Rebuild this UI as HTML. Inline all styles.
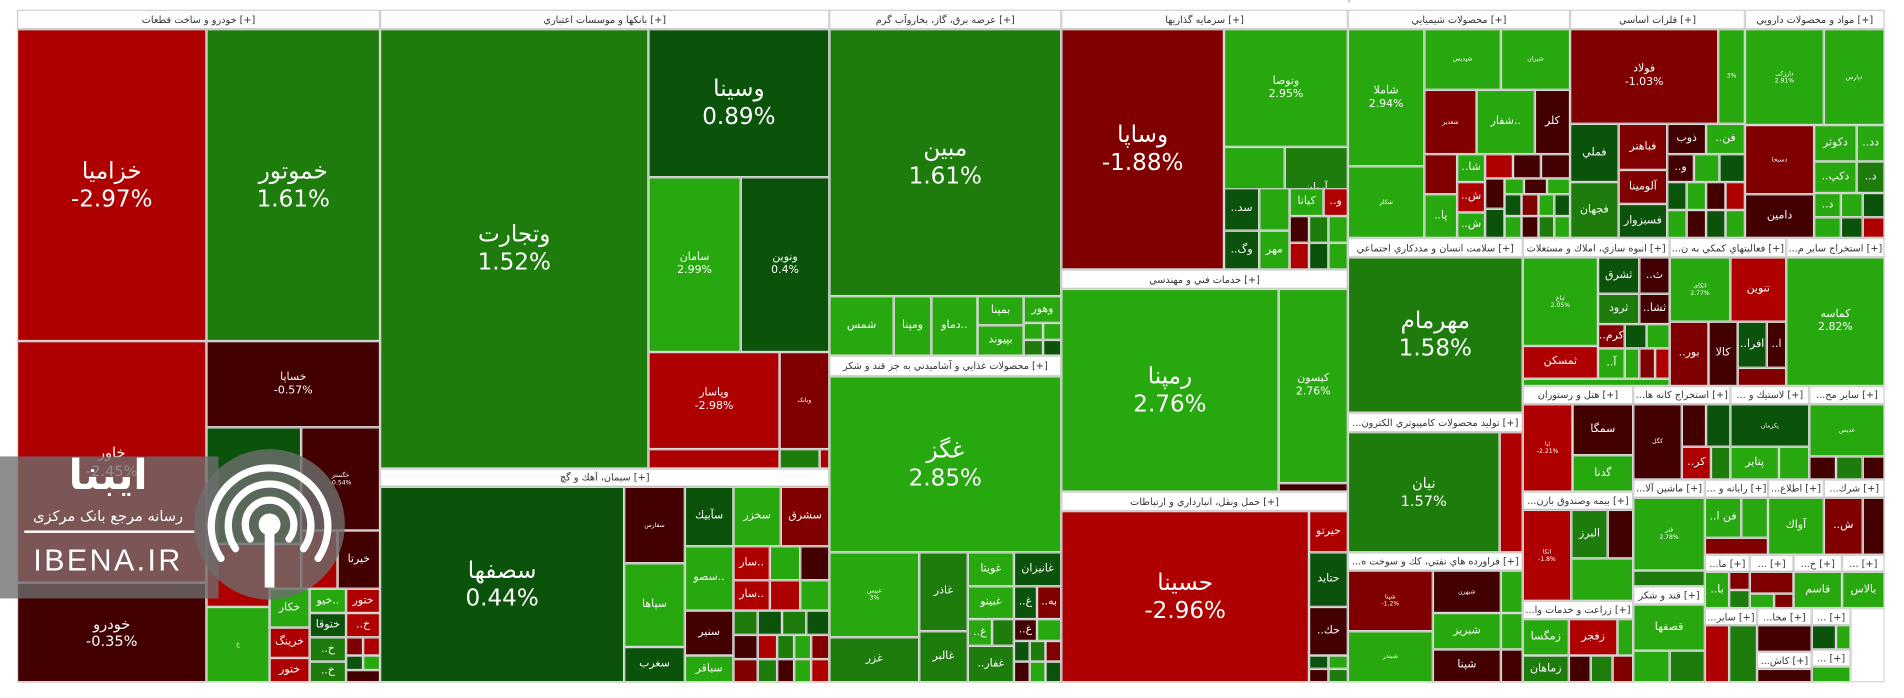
<!DOCTYPE html>
<html><head><meta charset="utf-8"><style>
body{margin:0;background:#fff;width:1904px;height:698px;overflow:hidden}
#w{position:absolute;left:0;top:0;width:1568px;height:575px;transform:scale(1.21429,1.2139);transform-origin:0 0;font-family:"DejaVu Sans","Liberation Sans",sans-serif}
.c{position:absolute;box-sizing:border-box;border:1px solid #d8d8d8;display:flex;align-items:center;justify-content:center;text-align:center;color:#fff;font-size:9px;line-height:1.2;overflow:hidden}
.h{position:absolute;box-sizing:border-box;border:1px solid #d0d0d0;background:#fff;color:#333;font-size:8px;display:flex;align-items:center;justify-content:center;white-space:nowrap;overflow:hidden}
.g1{background:#27a80e}.g2{background:#1d7c0b}.g3{background:#0b520a}
.r1{background:#ae0000}.r2{background:#800000}.r3{background:#420000}
.b{font-size:19px}.m{font-size:12px}.s{font-size:5px}
</style></head><body><div id="w">
<div style="position:absolute;left:14px;top:8px;width:1538px;height:554px;border:1px solid #ccc;box-sizing:border-box"></div>
<!-- خودرو -->
<div class="h" style="left:14px;top:8px;width:299px;height:16px">خودرو و ساخت قطعات [+]</div>
<div class="c r1 b" style="left:14px;top:24px;width:156px;height:257px">خزامیا<br>-2.97%</div>
<div class="c g2 b" style="left:170px;top:24px;width:143px;height:257px">خموتور<br>1.61%</div>
<div class="c r1 m" style="left:14px;top:281px;width:156px;height:199px">خاور<br>-2.45%</div>
<div class="c r3 m" style="left:14px;top:480px;width:156px;height:82px">خودرو<br>-0.35%</div>
<div class="c r3" style="left:170px;top:281px;width:143px;height:71px">خساپا<br>-0.57%</div>
<div class="c g3 s" style="left:170px;top:352px;width:78px;height:96px"></div>
<div class="c r3 s" style="left:248px;top:352px;width:65px;height:85px">خگستر<br>-0.54%</div>
<div class="c r1" style="left:170px;top:448px;width:52px;height:52px"></div>
<div class="c r3" style="left:278px;top:437px;width:35px;height:48px">خیرتا</div>
<div class="c r1" style="left:248px;top:437px;width:30px;height:48px"></div>
<div class="c r1" style="left:222px;top:448px;width:26px;height:37px"></div>
<div class="c g1 s" style="left:170px;top:500px;width:52px;height:62px">خ</div>
<div class="c g1" style="left:222px;top:485px;width:33px;height:32px">خکار</div>
<div class="c r1" style="left:222px;top:517px;width:33px;height:25px">خرینگ</div>
<div class="c r1" style="left:222px;top:542px;width:33px;height:20px">ختور</div>
<div class="c g1" style="left:255px;top:485px;width:30px;height:20px">خیو..</div>
<div class="c g3" style="left:255px;top:505px;width:30px;height:20px">ختوقا</div>
<div class="c g2" style="left:255px;top:525px;width:30px;height:20px">..خ</div>
<div class="c g2" style="left:255px;top:545px;width:30px;height:17px">..خ</div>
<div class="c r1" style="left:285px;top:485px;width:28px;height:20px">ختور</div>
<div class="c r1" style="left:285px;top:505px;width:28px;height:20px">..خ</div>
<div class="c r2" style="left:285px;top:525px;width:14px;height:15px"></div>
<div class="c r1" style="left:299px;top:525px;width:14px;height:15px"></div>
<div class="c g3" style="left:285px;top:540px;width:14px;height:12px"></div>
<div class="c g1" style="left:299px;top:540px;width:14px;height:12px"></div>
<div class="c r3" style="left:285px;top:552px;width:28px;height:10px"></div>
<!-- بانکها -->
<div class="h" style="left:313px;top:8px;width:370px;height:16px">بانکها و موسسات اعتباري [+]</div>
<div class="c g2 b" style="left:313px;top:24px;width:221px;height:362px">وتجارت<br>1.52%</div>
<div class="c g3 b" style="left:534px;top:24px;width:149px;height:122px">وسينا<br>0.89%</div>
<div class="c g1" style="left:534px;top:146px;width:76px;height:144px">سامان<br>2.99%</div>
<div class="c g3" style="left:610px;top:146px;width:73px;height:144px">ونوين<br>0.4%</div>
<div class="c r1" style="left:534px;top:290px;width:108px;height:80px">وپاسار<br>-2.98%</div>
<div class="c r2 s" style="left:642px;top:290px;width:41px;height:80px">وبانک</div>
<div class="c r1" style="left:534px;top:370px;width:108px;height:16px"></div>
<div class="c g2" style="left:642px;top:370px;width:33px;height:16px"></div>
<div class="c r1" style="left:675px;top:370px;width:8px;height:16px"></div>
<!-- سیمان -->
<div class="h" style="left:313px;top:386px;width:370px;height:15px">سيمان، آهك و گچ [+]</div>
<div class="c g3 b" style="left:313px;top:401px;width:201px;height:161px">سصفها<br>0.44%</div>
<div class="c r3 s" style="left:514px;top:401px;width:50px;height:63px">سفارس</div>
<div class="c g1" style="left:514px;top:464px;width:50px;height:69px">سپاها</div>
<div class="c g3" style="left:514px;top:533px;width:50px;height:29px">سغرب</div>
<div class="c g3" style="left:564px;top:401px;width:40px;height:49px">سآبيك</div>
<div class="c g1" style="left:564px;top:450px;width:40px;height:53px">سصو..</div>
<div class="c r3" style="left:564px;top:503px;width:40px;height:37px">سنير</div>
<div class="c g1" style="left:564px;top:540px;width:40px;height:22px">سباقر</div>
<div class="c g1" style="left:604px;top:401px;width:39px;height:49px">سخزر</div>
<div class="c r2" style="left:643px;top:401px;width:40px;height:49px">سشرق</div>
<div class="c r1" style="left:604px;top:450px;width:30px;height:28px">سار..</div>
<div class="c g1" style="left:634px;top:450px;width:25px;height:28px"></div>
<div class="c r3" style="left:659px;top:450px;width:24px;height:28px"></div>
<div class="c r1" style="left:604px;top:478px;width:30px;height:25px">سار..</div>
<div class="c r1" style="left:634px;top:478px;width:25px;height:25px"></div>
<div class="c g1" style="left:659px;top:478px;width:24px;height:25px"></div>
<div class="c g2" style="left:604px;top:503px;width:20px;height:20px"></div>
<div class="c g3" style="left:624px;top:503px;width:20px;height:20px"></div>
<div class="c g2" style="left:644px;top:503px;width:20px;height:20px"></div>
<div class="c g3" style="left:664px;top:503px;width:19px;height:20px"></div>
<div class="c r3" style="left:604px;top:523px;width:20px;height:20px"></div>
<div class="c r1" style="left:624px;top:523px;width:16px;height:20px"></div>
<div class="c g2" style="left:640px;top:523px;width:14px;height:20px"></div>
<div class="c g1" style="left:654px;top:523px;width:14px;height:20px"></div>
<div class="c r2" style="left:668px;top:523px;width:15px;height:20px"></div>
<div class="c r2" style="left:604px;top:543px;width:20px;height:19px"></div>
<div class="c g2" style="left:624px;top:543px;width:16px;height:19px"></div>
<div class="c r3" style="left:640px;top:543px;width:14px;height:19px"></div>
<div class="c g1" style="left:654px;top:543px;width:14px;height:19px"></div>
<div class="c r1" style="left:668px;top:543px;width:15px;height:19px"></div>
<!-- برق -->
<div class="h" style="left:683px;top:8px;width:191px;height:16px">عرضه برق، گاز، بخاروآب گرم [+]</div>
<div class="c g2 b" style="left:683px;top:24px;width:191px;height:220px">مبين<br>1.61%</div>
<div class="c g1" style="left:683px;top:244px;width:53px;height:49px">شمس</div>
<div class="c g1" style="left:736px;top:244px;width:31px;height:49px">ومپنا</div>
<div class="c g1" style="left:767px;top:244px;width:38px;height:49px">دماو..</div>
<div class="c g1" style="left:805px;top:244px;width:38px;height:24px">بمپنا</div>
<div class="c g1" style="left:805px;top:268px;width:38px;height:25px">بپيوند</div>
<div class="c g1" style="left:843px;top:244px;width:31px;height:22px">وهور</div>
<div class="c g1" style="left:843px;top:266px;width:16px;height:14px"></div>
<div class="c g1" style="left:859px;top:266px;width:15px;height:14px"></div>
<div class="c g2" style="left:843px;top:280px;width:16px;height:13px"></div>
<div class="c g3" style="left:859px;top:280px;width:15px;height:13px"></div>
<!-- غذایی -->
<div class="h" style="left:683px;top:293px;width:191px;height:17px">محصولات غذايي و آشاميدني به جز قند و شكر [+]</div>
<div class="c g1 b" style="left:683px;top:310px;width:191px;height:145px">غگز<br>2.85%</div>
<div class="c g1 s" style="left:683px;top:455px;width:74px;height:70px">غبيس<br>3%</div>
<div class="c g2" style="left:683px;top:525px;width:74px;height:37px">غزر</div>
<div class="c g2" style="left:757px;top:455px;width:40px;height:65px">غاذر</div>
<div class="c g2" style="left:757px;top:520px;width:40px;height:42px">غالبر</div>
<div class="c g1" style="left:797px;top:455px;width:38px;height:28px">غويتا</div>
<div class="c g1" style="left:797px;top:483px;width:38px;height:27px">غبينو</div>
<div class="c g1" style="left:797px;top:510px;width:20px;height:22px">..غ</div>
<div class="c g2" style="left:817px;top:510px;width:18px;height:22px"></div>
<div class="c g2" style="left:797px;top:532px;width:38px;height:30px">..غفار</div>
<div class="c g3" style="left:835px;top:455px;width:39px;height:28px">غانيزان</div>
<div class="c g3" style="left:835px;top:483px;width:19px;height:27px">..غ</div>
<div class="c r2" style="left:854px;top:483px;width:20px;height:27px">..به</div>
<div class="c r3" style="left:835px;top:510px;width:19px;height:18px">..غ</div>
<div class="c g1" style="left:854px;top:510px;width:20px;height:18px"></div>
<div class="c g3" style="left:835px;top:528px;width:13px;height:17px"></div>
<div class="c g2" style="left:848px;top:528px;width:13px;height:17px"></div>
<div class="c r2" style="left:861px;top:528px;width:13px;height:17px"></div>
<div class="c r3" style="left:835px;top:545px;width:13px;height:17px"></div>
<div class="c g1" style="left:848px;top:545px;width:13px;height:17px"></div>
<div class="c g3" style="left:861px;top:545px;width:13px;height:17px"></div>
<!-- سرمایه گذاری -->
<div class="h" style="left:874px;top:8px;width:236px;height:16px">سرمايه گذاريها [+]</div>
<div class="c r2 b" style="left:874px;top:24px;width:134px;height:198px">وساپا<br>-1.88%</div>
<div class="c g1" style="left:1008px;top:24px;width:102px;height:97px">وتوصا<br>2.95%</div>
<div class="c g1 s" style="left:1008px;top:121px;width:50px;height:69px">وبهمن</div>
<div class="c g2" style="left:1058px;top:121px;width:52px;height:69px">آريان</div>
<div class="c g3" style="left:1008px;top:190px;width:29px;height:1px"></div>
<div class="c g3" style="left:1008px;top:190px;width:0;height:0"></div>
<!-- سرمایه (reconstructed lower part) -->
<div class="c g3" style="left:1008px;top:190px;width:29px;height:0"></div>
<div class="c g1" style="left:1110px;top:0;width:0;height:0"></div>
<!-- شیمیایی -->
<div class="h" style="left:1110px;top:8px;width:183px;height:16px">محصولات شيميايي [+]</div>
<div class="c g1" style="left:1110px;top:24px;width:63px;height:113px">شاملا<br>2.94%</div>
<div class="c g1 s" style="left:1110px;top:137px;width:63px;height:59px">شکلر</div>
<div class="c g1 s" style="left:1173px;top:24px;width:63px;height:50px">شپدیس</div>
<div class="c g1 s" style="left:1236px;top:24px;width:57px;height:50px">شیران</div>
<div class="c r2 s" style="left:1173px;top:74px;width:43px;height:53px">شغدیر</div>
<div class="c g1" style="left:1216px;top:74px;width:48px;height:53px">شفار..</div>
<div class="c r3" style="left:1264px;top:74px;width:29px;height:53px">كلر</div>
<div class="c r2" style="left:1173px;top:127px;width:27px;height:33px"></div>
<div class="c g1" style="left:1173px;top:160px;width:27px;height:36px">..پا</div>
<div class="c g1" style="left:1200px;top:127px;width:23px;height:23px">..شا</div>
<div class="c r1" style="left:1200px;top:150px;width:23px;height:25px">..ش</div>
<div class="c g1" style="left:1200px;top:175px;width:23px;height:21px">..ش</div>
<div class="c r1" style="left:1223px;top:127px;width:23px;height:20px"></div>
<div class="c r3" style="left:1246px;top:127px;width:23px;height:20px"></div>
<div class="c r3" style="left:1269px;top:127px;width:24px;height:20px"></div>
<div class="c r3" style="left:1223px;top:147px;width:16px;height:25px"></div>
<div class="c g1" style="left:1239px;top:147px;width:16px;height:13px"></div>
<div class="c r3" style="left:1255px;top:147px;width:19px;height:13px"></div>
<div class="c g1" style="left:1274px;top:147px;width:19px;height:13px"></div>
<div class="c g3" style="left:1239px;top:160px;width:14px;height:18px"></div>
<div class="c r2" style="left:1253px;top:160px;width:14px;height:18px"></div>
<div class="c g1" style="left:1267px;top:160px;width:13px;height:18px"></div>
<div class="c g3" style="left:1280px;top:160px;width:13px;height:18px"></div>
<div class="c g3" style="left:1223px;top:172px;width:16px;height:24px"></div>
<div class="c g1" style="left:1239px;top:178px;width:14px;height:18px"></div>
<div class="c r3" style="left:1253px;top:178px;width:14px;height:18px"></div>
<div class="c g2" style="left:1267px;top:178px;width:13px;height:18px"></div>
<div class="c g1" style="left:1280px;top:178px;width:13px;height:18px"></div>
<!-- فلزات -->
<div class="h" style="left:1293px;top:8px;width:144px;height:16px">فلزات اساسي [+]</div>
<div class="c r2" style="left:1293px;top:24px;width:122px;height:78px">فولاد<br>-1.03%</div>
<div class="c g1 s" style="left:1415px;top:24px;width:22px;height:78px">3%</div>
<div class="c g3" style="left:1293px;top:102px;width:40px;height:48px">فملي</div>
<div class="c g2" style="left:1293px;top:150px;width:40px;height:46px">فجهان</div>
<div class="c r2" style="left:1333px;top:102px;width:40px;height:38px">فباهنر</div>
<div class="c r2" style="left:1333px;top:140px;width:40px;height:28px">آلومينا</div>
<div class="c g3" style="left:1333px;top:168px;width:40px;height:28px">فسبزوار</div>
<div class="c r3" style="left:1373px;top:102px;width:32px;height:25px">ذوب</div>
<div class="c g1" style="left:1405px;top:102px;width:32px;height:25px">..فن</div>
<div class="c r3" style="left:1373px;top:127px;width:22px;height:23px">..و</div>
<div class="c g1" style="left:1395px;top:127px;width:21px;height:23px"></div>
<div class="c g3" style="left:1416px;top:127px;width:21px;height:23px"></div>
<div class="c g3" style="left:1373px;top:150px;width:16px;height:23px"></div>
<div class="c g1" style="left:1389px;top:150px;width:16px;height:23px"></div>
<div class="c r3" style="left:1405px;top:150px;width:16px;height:23px"></div>
<div class="c r1" style="left:1421px;top:150px;width:16px;height:23px"></div>
<div class="c g1" style="left:1373px;top:173px;width:16px;height:23px"></div>
<div class="c r3" style="left:1389px;top:173px;width:16px;height:23px"></div>
<div class="c g3" style="left:1405px;top:173px;width:16px;height:23px"></div>
<div class="c g1" style="left:1421px;top:173px;width:16px;height:23px"></div>
<!-- دارویی -->
<div class="h" style="left:1437px;top:8px;width:115px;height:16px">مواد و محصولات دارويي [+]</div>
<div class="c g1 s" style="left:1437px;top:24px;width:65px;height:79px">دارزکی<br>2.91%</div>
<div class="c g1 s" style="left:1502px;top:24px;width:50px;height:79px">دپارس</div>
<div class="c r2 s" style="left:1437px;top:103px;width:57px;height:57px">دسبحا</div>
<div class="c r3" style="left:1437px;top:160px;width:57px;height:36px">دامين</div>
<div class="c g1" style="left:1494px;top:103px;width:35px;height:30px">دكوثر</div>
<div class="c g1" style="left:1529px;top:103px;width:23px;height:30px">..دد</div>
<div class="c g1" style="left:1494px;top:133px;width:35px;height:26px">..دكپ</div>
<div class="c g2" style="left:1529px;top:133px;width:23px;height:26px">..د</div>
<div class="c g1" style="left:1494px;top:159px;width:22px;height:20px">..د</div>
<div class="c g1" style="left:1516px;top:159px;width:18px;height:20px"></div>
<div class="c g3" style="left:1534px;top:159px;width:18px;height:20px"></div>
<div class="c g1" style="left:1494px;top:179px;width:22px;height:17px"></div>
<div class="c g3" style="left:1516px;top:179px;width:18px;height:17px"></div>
<div class="c r1" style="left:1534px;top:179px;width:18px;height:17px"></div>
<!-- سرمایه گذاری lower -->
<div class="c g3" style="left:1008px;top:190px;width:29px;height:32px">..وگ</div>
<div class="c g3" style="left:1008px;top:155px;width:29px;height:35px">..سد</div>
<div class="c g1" style="left:1037px;top:155px;width:25px;height:35px"></div>
<div class="c g1" style="left:1037px;top:190px;width:25px;height:32px">مهر</div>
<div class="c g1" style="left:1062px;top:155px;width:28px;height:23px">كيانا</div>
<div class="c r1" style="left:1090px;top:155px;width:20px;height:23px">..و</div>
<div class="c r3" style="left:1062px;top:178px;width:16px;height:22px"></div>
<div class="c g2" style="left:1078px;top:178px;width:16px;height:22px"></div>
<div class="c g1" style="left:1094px;top:178px;width:16px;height:22px"></div>
<div class="c r1" style="left:1062px;top:200px;width:16px;height:22px"></div>
<div class="c g3" style="left:1078px;top:200px;width:16px;height:22px"></div>
<div class="c g1" style="left:1094px;top:200px;width:16px;height:22px"></div>
<!-- خدمات فنی -->
<div class="h" style="left:874px;top:222px;width:236px;height:16px">خدمات فني و مهندسي [+]</div>
<div class="c g1 b" style="left:874px;top:238px;width:179px;height:167px">رمپنا<br>2.76%</div>
<div class="c g1" style="left:1053px;top:238px;width:57px;height:160px">كيسون<br>2.76%</div>
<div class="c r3" style="left:1053px;top:398px;width:57px;height:7px"></div>
<!-- حمل -->
<div class="h" style="left:874px;top:405px;width:236px;height:16px">حمل ونقل، انبارداري و ارتباطات [+]</div>
<div class="c r1 b" style="left:874px;top:421px;width:204px;height:141px">حسينا<br>-2.96%</div>
<div class="c r1" style="left:1078px;top:421px;width:32px;height:34px">حيرتو</div>
<div class="c g3" style="left:1078px;top:455px;width:32px;height:45px">حتايد</div>
<div class="c r3" style="left:1078px;top:500px;width:32px;height:40px">..حك</div>
<div class="c g3" style="left:1078px;top:540px;width:16px;height:11px"></div>
<div class="c g1" style="left:1094px;top:540px;width:16px;height:11px"></div>
<div class="c r3" style="left:1078px;top:551px;width:16px;height:11px"></div>
<div class="c g2" style="left:1094px;top:551px;width:16px;height:11px"></div>
<!-- سلامت -->
<div class="h" style="left:1110px;top:196px;width:144px;height:16px">سلامت انسان و مددكاري اجتماعي [+]</div>
<div class="c g2 b" style="left:1110px;top:212px;width:144px;height:128px">مهرمام<br>1.58%</div>
<div class="h" style="left:1110px;top:340px;width:144px;height:16px">...توليد محصولات كامپيوتري الكترون [+]</div>
<div class="c g2 m" style="left:1110px;top:356px;width:125px;height:99px">نيان<br>1.57%</div>
<div class="c r1" style="left:1235px;top:356px;width:19px;height:99px"></div>
<div class="h" style="left:1110px;top:455px;width:144px;height:15px">...فراورده هاي نفتي، كك و سوخت ه [+]</div>
<div class="c r2 s" style="left:1110px;top:470px;width:70px;height:50px">شپنا<br>-1.2%</div>
<div class="c g1 s" style="left:1110px;top:520px;width:70px;height:42px">شبندر</div>
<div class="c r3 s" style="left:1180px;top:470px;width:56px;height:35px">شبهرن</div>
<div class="c g1" style="left:1236px;top:470px;width:18px;height:35px"></div>
<div class="c g1" style="left:1180px;top:505px;width:56px;height:30px">شبريز</div>
<div class="c g1" style="left:1236px;top:505px;width:18px;height:30px"></div>
<div class="c r3" style="left:1180px;top:535px;width:56px;height:27px">شپنا</div>
<div class="c r3" style="left:1236px;top:535px;width:18px;height:27px"></div>
<!-- انبوه سازی -->
<div class="h" style="left:1254px;top:196px;width:121px;height:16px">انبوه سازي، املاك و مستغلات [+]</div>
<div class="c g1 s" style="left:1254px;top:212px;width:62px;height:73px">ثباغ<br>2.05%</div>
<div class="c r1" style="left:1254px;top:285px;width:62px;height:27px">ثمسكن</div>
<div class="c g3" style="left:1316px;top:212px;width:34px;height:30px">ثشرق</div>
<div class="c r3" style="left:1350px;top:212px;width:25px;height:30px">..ث</div>
<div class="c g2" style="left:1316px;top:242px;width:34px;height:25px">ثرود</div>
<div class="c r3" style="left:1350px;top:242px;width:25px;height:25px">..ثشا</div>
<div class="c r2" style="left:1316px;top:267px;width:22px;height:20px">..كرم</div>
<div class="c g3" style="left:1338px;top:267px;width:18px;height:20px"></div>
<div class="c g1" style="left:1356px;top:267px;width:19px;height:20px"></div>
<div class="c g1" style="left:1316px;top:287px;width:22px;height:25px">..آ</div>
<div class="c g1" style="left:1338px;top:287px;width:12px;height:25px"></div>
<div class="c r2" style="left:1350px;top:287px;width:13px;height:25px"></div>
<div class="c r1" style="left:1363px;top:287px;width:12px;height:25px"></div>
<div class="c g1" style="left:1254px;top:312px;width:121px;height:6px"></div>
<!-- فعالیتهای کمکی -->
<div class="h" style="left:1375px;top:196px;width:96px;height:16px">...فعاليتهاي كمكي به ن [+]</div>
<div class="c g1 s" style="left:1375px;top:212px;width:50px;height:53px">اتکای<br>2.77%</div>
<div class="c r1" style="left:1425px;top:212px;width:46px;height:53px">تنوين</div>
<div class="c r2" style="left:1375px;top:265px;width:32px;height:53px">..بور</div>
<div class="c r3" style="left:1407px;top:265px;width:24px;height:53px">كالا</div>
<div class="c g3" style="left:1431px;top:265px;width:24px;height:38px">..افرا</div>
<div class="c r3" style="left:1455px;top:265px;width:16px;height:38px">..ا</div>
<div class="c r2" style="left:1431px;top:303px;width:40px;height:15px"></div>
<div class="h" style="left:1471px;top:196px;width:81px;height:16px">...استخراج ساير م [+]</div>
<div class="c g1" style="left:1471px;top:212px;width:81px;height:106px">كماسه<br>2.82%</div>
<!-- هتل -->
<div class="h" style="left:1254px;top:318px;width:91px;height:15px">هتل و رستوران [+]</div>
<div class="c r1 s" style="left:1254px;top:333px;width:41px;height:72px">ثبا<br>-2.21%</div>
<div class="c r3" style="left:1295px;top:333px;width:50px;height:42px">سمگا</div>
<div class="c g1" style="left:1295px;top:375px;width:50px;height:30px">گدنا</div>
<div class="h" style="left:1345px;top:318px;width:80px;height:15px">...استخراج كانه ها [+]</div>
<div class="c r3 s" style="left:1345px;top:333px;width:40px;height:62px">کگل</div>
<div class="c r3" style="left:1385px;top:333px;width:20px;height:35px"></div>
<div class="c g3" style="left:1405px;top:333px;width:20px;height:35px"></div>
<div class="c r1" style="left:1385px;top:368px;width:24px;height:27px">..كر</div>
<div class="c g2" style="left:1409px;top:368px;width:16px;height:27px"></div>
<div class="h" style="left:1425px;top:318px;width:65px;height:15px">... لاستيك و [+]</div>
<div class="c g3 s" style="left:1425px;top:333px;width:65px;height:35px">پکرمان</div>
<div class="c g1" style="left:1425px;top:368px;width:40px;height:27px">پتاير</div>
<div class="c g1" style="left:1465px;top:368px;width:25px;height:27px"></div>
<div class="h" style="left:1490px;top:318px;width:62px;height:15px">...ساير مح [+]</div>
<div class="c g1 s" style="left:1490px;top:333px;width:62px;height:43px">غدیس</div>
<div class="c r3" style="left:1490px;top:376px;width:22px;height:19px"></div>
<div class="c g2" style="left:1512px;top:376px;width:22px;height:19px"></div>
<div class="c r3" style="left:1534px;top:376px;width:18px;height:19px"></div>
<!-- بیمه -->
<div class="h" style="left:1254px;top:405px;width:91px;height:15px">...بيمه وصندوق بازن [+]</div>
<div class="c r1 s" style="left:1254px;top:420px;width:40px;height:75px">اتکا<br>-1.8%</div>
<div class="c g2" style="left:1294px;top:420px;width:30px;height:40px">البرز</div>
<div class="c r3" style="left:1324px;top:420px;width:21px;height:40px"></div>
<div class="c g1" style="left:1294px;top:460px;width:51px;height:35px"></div>
<div class="h" style="left:1345px;top:395px;width:59px;height:15px">...ماشين آلا [+]</div>
<div class="c g1 s" style="left:1345px;top:410px;width:59px;height:60px">فنر<br>2.78%</div>
<div class="c g2" style="left:1345px;top:470px;width:59px;height:13px"></div>
<div class="h" style="left:1404px;top:395px;width:52px;height:15px">... رايانه و [+]</div>
<div class="c g1" style="left:1404px;top:410px;width:30px;height:33px">..فن ا</div>
<div class="c g1" style="left:1434px;top:410px;width:22px;height:33px"></div>
<div class="c r2" style="left:1404px;top:443px;width:52px;height:14px"></div>
<div class="h" style="left:1456px;top:395px;width:46px;height:15px">...اطلاع [+]</div>
<div class="c g1" style="left:1456px;top:410px;width:46px;height:47px">آواك</div>
<div class="h" style="left:1502px;top:395px;width:50px;height:15px">...شرك [+]</div>
<div class="c r2" style="left:1502px;top:410px;width:32px;height:47px">..ش</div>
<div class="c r3" style="left:1534px;top:410px;width:18px;height:47px"></div>
<!-- زراعت -->
<div class="h" style="left:1254px;top:495px;width:91px;height:15px">...زراعت و خدمات وا [+]</div>
<div class="c g1" style="left:1254px;top:510px;width:38px;height:30px">زمگسا</div>
<div class="c g2" style="left:1254px;top:540px;width:38px;height:22px">زماهان</div>
<div class="c r1" style="left:1292px;top:510px;width:40px;height:30px">زفجر</div>
<div class="c g1" style="left:1332px;top:510px;width:13px;height:30px"></div>
<div class="c r3" style="left:1292px;top:540px;width:18px;height:22px"></div>
<div class="c g2" style="left:1310px;top:540px;width:18px;height:22px"></div>
<div class="c r2" style="left:1328px;top:540px;width:17px;height:22px"></div>
<div class="h" style="left:1345px;top:483px;width:59px;height:15px">قند و شكر [+]</div>
<div class="c g1" style="left:1345px;top:498px;width:59px;height:38px">قصفها</div>
<div class="c g1" style="left:1345px;top:536px;width:30px;height:26px"></div>
<div class="c g2" style="left:1375px;top:536px;width:29px;height:26px"></div>
<!-- small right-bottom -->
<div class="h" style="left:1404px;top:457px;width:37px;height:14px">...ما [+]</div>
<div class="c g1" style="left:1404px;top:471px;width:20px;height:30px">..با</div>
<div class="c r2" style="left:1424px;top:471px;width:17px;height:15px"></div>
<div class="c g2" style="left:1424px;top:486px;width:17px;height:15px"></div>
<div class="h" style="left:1441px;top:457px;width:36px;height:14px">... [+]</div>
<div class="c r2" style="left:1441px;top:471px;width:36px;height:18px"></div>
<div class="c g1" style="left:1441px;top:489px;width:20px;height:12px"></div>
<div class="c r2" style="left:1461px;top:489px;width:16px;height:12px"></div>
<div class="h" style="left:1477px;top:457px;width:40px;height:14px">...خ [+]</div>
<div class="c g1" style="left:1477px;top:471px;width:40px;height:30px">قاسم</div>
<div class="h" style="left:1517px;top:457px;width:35px;height:14px">... [+]</div>
<div class="c g1" style="left:1517px;top:471px;width:35px;height:30px">بالاس</div>
<div class="h" style="left:1404px;top:501px;width:43px;height:14px">...سایر [+]</div>
<div class="c r1" style="left:1404px;top:515px;width:20px;height:47px"></div>
<div class="c g2" style="left:1424px;top:515px;width:23px;height:47px"></div>
<div class="h" style="left:1447px;top:501px;width:45px;height:14px">...مخا [+]</div>
<div class="c r3" style="left:1447px;top:515px;width:45px;height:22px"></div>
<div class="h" style="left:1447px;top:537px;width:45px;height:14px">...كاش [+]</div>
<div class="c r3" style="left:1447px;top:551px;width:45px;height:11px"></div>
<div class="h" style="left:1492px;top:501px;width:32px;height:14px">... [+]</div>
<div class="c g3" style="left:1492px;top:515px;width:20px;height:20px"></div>
<div class="c g1" style="left:1512px;top:515px;width:12px;height:20px"></div>
<div class="h" style="left:1492px;top:535px;width:32px;height:14px">... [+]</div>
<div class="c g1" style="left:1492px;top:549px;width:32px;height:13px"></div>
<div class="c" style="left:1524px;top:501px;width:28px;height:61px;background:#fff"></div>
<!-- watermark -->
<div style="position:absolute;left:0;top:376px;width:180px;height:117px;background:rgba(110,110,110,0.78)"></div>
<div style="position:absolute;left:160px;top:370px;width:124px;height:124px;border-radius:50%;background:rgba(110,110,110,0.8)"></div>
<svg style="position:absolute;left:160px;top:370px" width="124" height="124" viewBox="0 0 124 124">
<g fill="none" stroke="#fff" stroke-width="6" stroke-linecap="round">
<path d="M22 90 A48 48 0 1 1 102 90"/><path d="M34 82 A34 34 0 1 1 90 82"/><path d="M46 74 A20 20 0 1 1 78 74"/>
</g><circle cx="62" cy="62" r="9" fill="#fff"/><rect x="58" y="62" width="8" height="52" fill="#fff"/></svg>
<div style="position:absolute;left:14px;top:372px;width:150px;text-align:center;color:#fff;font-size:34px;font-weight:bold">ايبنا</div>
<div style="position:absolute;left:14px;top:418px;width:150px;text-align:center;color:#fff;font-size:12px">رسانه مرجع بانک مرکزی</div>
<div style="position:absolute;left:20px;top:437px;width:140px;height:2px;background:#fff"></div>
<div style="position:absolute;left:14px;top:448px;width:150px;text-align:center;color:#fff;font-size:25px;font-family:'Liberation Sans',sans-serif;letter-spacing:2px">IBENA.IR</div>
</div></body></html>
